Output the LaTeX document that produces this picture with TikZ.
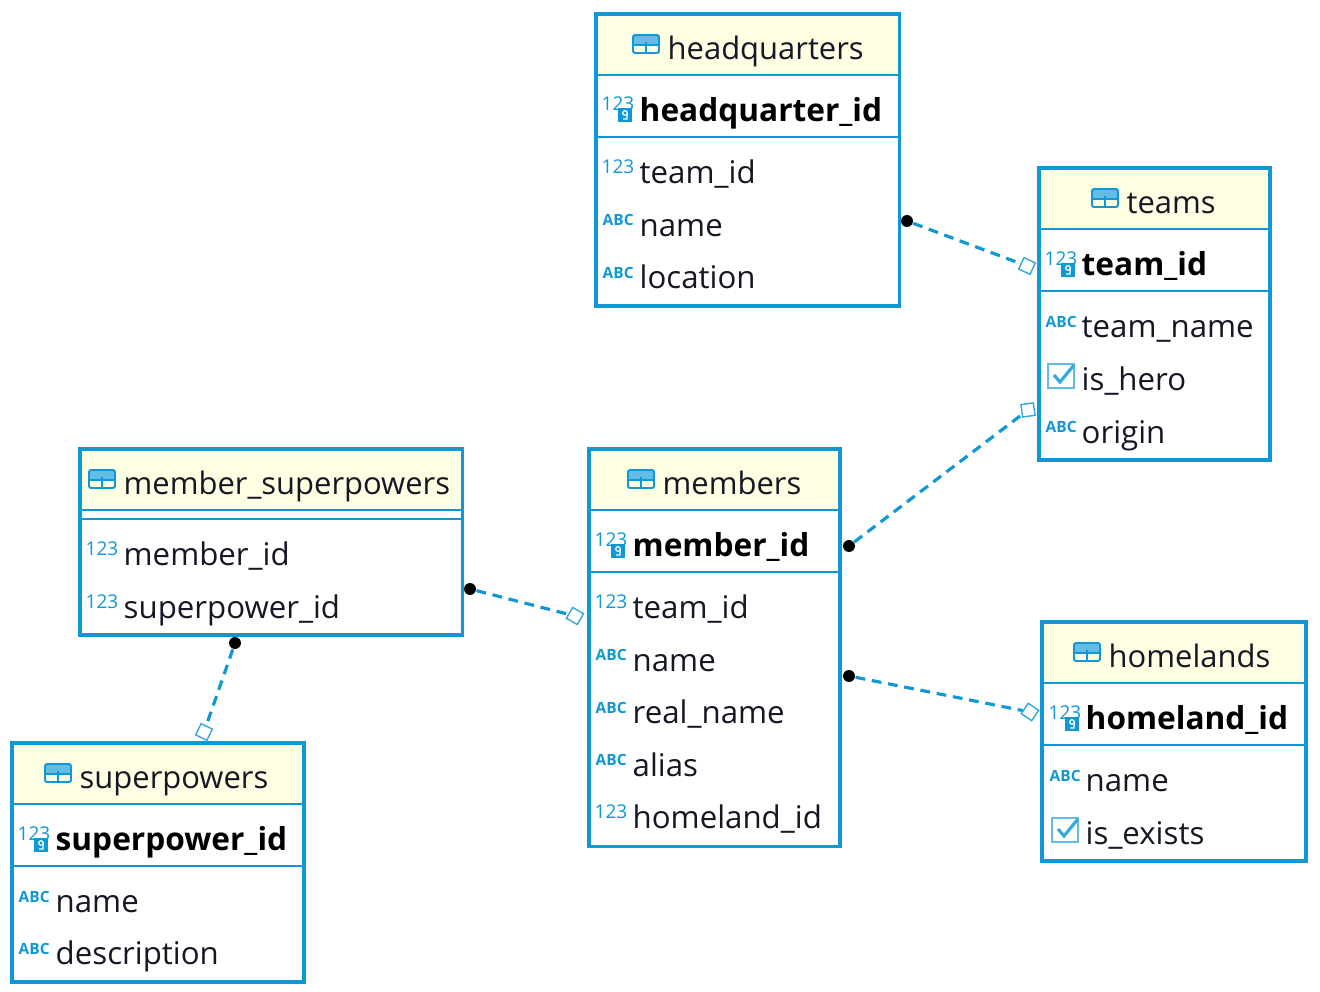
\documentclass[tikz,border=0pt]{standalone}
\usepackage{fontspec}
\setmainfont{Open Sans}
\usepackage{tikz}
\usetikzlibrary{shapes.geometric,positioning}
\definecolor{erblue}{RGB}{16,152,214}
\definecolor{erhead}{RGB}{254,254,226}
\definecolor{ertext}{RGB}{22,22,36}

\begin{document}
\begin{tikzpicture}[x=0.01cm, y=-0.01cm,
    tablebox/.style={rectangle, draw=erblue, line width=0.95pt, anchor=north west, inner sep=0pt, outer sep=0pt},
    headbox/.style={rectangle, fill=erhead, anchor=north west, inner sep=0pt, outer sep=0pt},
    rowline/.style={draw=erblue, line width=0.4pt},
    title/.style={anchor=base west, inner sep=0pt, text=ertext, font=\fontsize{8.8}{10}\selectfont},
    field/.style={anchor=base west, inner sep=0pt, text=ertext, font=\fontsize{8.88}{10}\selectfont},
    keyfield/.style={anchor=base west, inner sep=0pt, text=black, font=\fontsize{9}{10}\selectfont\bfseries},
    numicon/.style={anchor=base west, inner sep=0pt, text=erblue, font=\fontsize{5.4}{6}\selectfont},
    abcicon/.style={anchor=base west, inner sep=0pt, text=erblue, font=\fontsize{4.4}{6}\selectfont\bfseries},
    relation/.style={draw=erblue, line width=0.9pt, dash pattern=on 2.8pt off 1.9pt},
    fkdot/.style={circle, fill=black, inner sep=0pt, minimum size=3.4pt},
    fkdiamond/.style={diamond, draw=erblue!85, fill=white, line width=0.4pt, inner sep=0pt, minimum size=5.2pt},
    tableicon/.pic={
        \fill[erblue!65] (-13,-9) rectangle (13,1);
        \draw[erblue, line width=0.55pt, rounded corners=0.6pt] (-13,-9) rectangle (13,9);
        \draw[erblue, line width=0.4pt] (-13,1) -- (13,1) (0,-2) -- (0,9);
    },
    keybadge/.pic={
        \fill[erblue] (-7,-4) rectangle (7,10);
        \draw[white, line width=0.35pt] (0,1) circle (2.3);
        \draw[white, line width=0.35pt] (2.3,1) -- (2,7) -- (-2,7);
    },
    checkicon/.pic={
        \draw[erblue!65, line width=0.55pt] (-13,-12) rectangle (13,12);
        \draw[erblue!85, line width=0.9pt] (-7,-1) -- (-1,6) -- (13,-11);
    }
]
\useasboundingbox (0,0) rectangle (1320,992);

% headquarters
\node[headbox, minimum width=3.03cm, minimum height=0.61cm] (hqhead) at (596,14) {};
\node[tablebox, minimum width=3.03cm, minimum height=2.92cm] (hqbox) at (596,14) {};
\draw[rowline] (596,75) -- (899,75);
\draw[rowline] (596,137) -- (899,137);
\pic at (646,44) {tableicon};
\node[title] (hqtitle) at (667,60) {headquarters};
\pic at (625,112) {keybadge};
\node[numicon] (hqnuma) at (601,111) {123};
\node[keyfield] (hqid) at (639,122) {headquarter\_id};
\node[numicon] (hqnumb) at (601,174) {123};
\node[field] (hqteam) at (639,184) {team\_id};
\node[abcicon] (hqabca) at (602,226) {ABC};
\node[field] (hqname) at (639,237) {name};
\node[abcicon] (hqabcb) at (602,279) {ABC};
\node[field] (hqloc) at (639,289) {location};

% teams
\node[headbox, minimum width=2.31cm, minimum height=0.61cm] (tmhead) at (1039,168) {};
\node[tablebox, minimum width=2.31cm, minimum height=2.92cm] (tmbox) at (1039,168) {};
\draw[rowline] (1039,229) -- (1270,229);
\draw[rowline] (1039,291) -- (1270,291);
\pic at (1105,198) {tableicon};
\node[title] (tmtitle) at (1126,214) {teams};
\pic at (1068,267) {keybadge};
\node[numicon] (tmnuma) at (1044,266) {123};
\node[keyfield] (tmid) at (1081,276) {team\_id};
\node[abcicon] (tmabca) at (1045,328) {ABC};
\node[field] (tmname) at (1081,338) {team\_name};
\pic at (1061,376) {checkicon};
\node[field] (tmhero) at (1081,391) {is\_hero};
\node[abcicon] (tmabcb) at (1045,433) {ABC};
\node[field] (tmorigin) at (1081,444) {origin};

% member_superpowers
\node[headbox, minimum width=3.82cm, minimum height=0.61cm] (mshead) at (80,449) {};
\node[tablebox, minimum width=3.82cm, minimum height=1.86cm] (msbox) at (80,449) {};
\draw[rowline] (80,510) -- (462,510);
\draw[rowline] (80,519) -- (462,519);
\pic at (102,479) {tableicon};
\node[title] (mstitle) at (123,495) {member\_superpowers};
\node[numicon] (msnuma) at (85,556) {123};
\node[field] (msmember) at (123,566) {member\_id};
\node[numicon] (msnumb) at (85,609) {123};
\node[field] (mspower) at (123,619) {superpower\_id};

% members
\node[headbox, minimum width=2.51cm, minimum height=0.61cm] (mbhead) at (589,449) {};
\node[tablebox, minimum width=2.51cm, minimum height=3.97cm] (mbbox) at (589,449) {};
\draw[rowline] (589,510) -- (840,510);
\draw[rowline] (589,572) -- (840,572);
\pic at (641,479) {tableicon};
\node[title] (mbtitle) at (662,495) {members};
\pic at (618,548) {keybadge};
\node[numicon] (mbnuma) at (594,547) {123};
\node[keyfield] (mbid) at (632,557) {member\_id};
\node[numicon] (mbnumb) at (594,609) {123};
\node[field] (mbteam) at (632,619) {team\_id};
\node[abcicon] (mbabca) at (595,661) {ABC};
\node[field] (mbname) at (632,672) {name};
\node[abcicon] (mbabcb) at (595,714) {ABC};
\node[field] (mbreal) at (632,724) {real\_name};
\node[abcicon] (mbabcc) at (595,766) {ABC};
\node[field] (mbalias) at (632,777) {alias};
\node[numicon] (mbnumc) at (594,819) {123};
\node[field] (mbhome) at (632,829) {homeland\_id};

% homelands
\node[headbox, minimum width=2.64cm, minimum height=0.61cm] (hlhead) at (1042,622) {};
\node[tablebox, minimum width=2.64cm, minimum height=2.39cm] (hlbox) at (1042,622) {};
\draw[rowline] (1042,683) -- (1306,683);
\draw[rowline] (1042,745) -- (1306,745);
\pic at (1087,652) {tableicon};
\node[title] (hltitle) at (1108,668) {homelands};
\pic at (1072,721) {keybadge};
\node[numicon] (hlnuma) at (1048,720) {123};
\node[keyfield] (hlid) at (1085,730) {homeland\_id};
\node[abcicon] (hlabca) at (1049,782) {ABC};
\node[field] (hlname) at (1085,792) {name};
\pic at (1065,830) {checkicon};
\node[field] (hlexists) at (1085,845) {is\_exists};

% superpowers
\node[headbox, minimum width=2.92cm, minimum height=0.61cm] (sphead) at (12,743) {};
\node[tablebox, minimum width=2.92cm, minimum height=2.39cm] (spbox) at (12,743) {};
\draw[rowline] (12,804) -- (304,804);
\draw[rowline] (12,866) -- (304,866);
\pic at (58,773) {tableicon};
\node[title] (sptitle) at (79,789) {superpowers};
\pic at (41,842) {keybadge};
\node[numicon] (spnuma) at (17,841) {123};
\node[keyfield] (spid) at (55,851) {superpower\_id};
\node[abcicon] (spabca) at (18,903) {ABC};
\node[field] (spname) at (55,913) {name};
\node[abcicon] (spabcb) at (18,955) {ABC};
\node[field] (spdesc) at (55,965) {description};

% Relations
\node[fkdot] (dothq) at (907,221) {};
\node[fkdiamond, rotate=20] (diahq) at (1027,266) {};
\node[fkdot] (dotmb) at (849,546) {};
\node[fkdiamond, rotate=-37] (diamb) at (1028,410) {};
\node[fkdot] (dotms) at (470,589) {};
\node[fkdiamond, rotate=15] (diams) at (575,616) {};
\node[fkdot] (dotsp) at (235,643) {};
\node[fkdiamond, rotate=-71] (diasp) at (204,732) {};
\node[fkdot] (dothl) at (849,676) {};
\node[fkdiamond, rotate=11] (diahl) at (1030,712) {};
\draw[relation] (dothq) -- (diahq);
\draw[relation] (dotmb) -- (diamb);
\draw[relation] (dotms) -- (diams);
\draw[relation] (dotsp) -- (diasp);
\draw[relation] (dothl) -- (diahl);

\end{tikzpicture}
\end{document}
